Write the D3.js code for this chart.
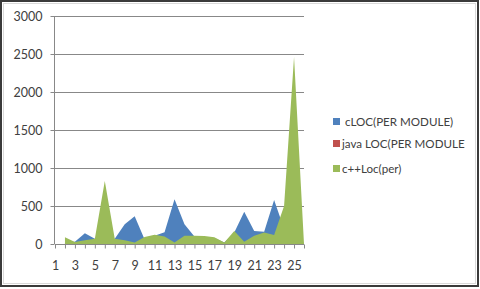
<!DOCTYPE html>
<html>
<head>
<meta charset="utf-8">
<script src="https://cdn.jsdelivr.net/npm/d3@7"></script>
<style>
  body { margin: 0; background: #fff; }
  text { font-family: Lato, "Open Sans", sans-serif; fill: #404040; }
</style>
</head>
<body>
<div id="chart"></div>
<script>
// categories 1..26, category 1 empty
var categories = d3.range(1, 27);
var cLOC = [null, 20, 30, 140, 70, 60, 70, 260, 365, 60, 110, 155, 590, 260, 100, 90, 80, 20, 150, 425, 170, 160, 580, 200, 300, 0];
var javaLOC = [null, 0, 0, 0, 0, 0, 0, 0, 0, 0, 0, 0, 0, 0, 0, 0, 0, 0, 0, 0, 0, 0, 0, 0, 0, 0];
var cppLOC = [null, 90, 25, 50, 70, 830, 70, 50, 20, 92, 123, 100, 20, 110, 110, 105, 90, 20, 170, 30, 110, 150, 120, 500, 2460, 0];
var yTicks = [0, 500, 1000, 1500, 2000, 2500, 3000];

var series = [
    { name: "cLOC(PER MODULE)", values: cLOC, color: "#4f81bd" },
    { name: "java LOC(PER MODULE", values: javaLOC, color: "#c0504d" },
    { name: "c++Loc(per)", values: cppLOC, color: "#9bbb59" }
];

var width = 480, height = 289;
var plot = { left: 55, right: 304, top: 16, bottom: 244 };

var svg = d3.select("#chart")
    .append("svg")
    .attr("width", width)
    .attr("height", height);

// frame
svg.append("rect")
    .attr("x", 1).attr("y", 1)
    .attr("width", width - 3).attr("height", height - 4)
    .attr("fill", "#fff")
    .attr("stroke", "#3a3a3a")
    .attr("stroke-width", 2);
svg.append("rect")
    .attr("x", 3.5).attr("y", 3.5)
    .attr("width", width - 8).attr("height", height - 9)
    .attr("fill", "none")
    .attr("stroke", "#d9d9d9")
    .attr("stroke-width", 1);

var x = d3.scalePoint()
    .domain(categories)
    .range([plot.left, plot.right]);
var y = d3.scaleLinear()
    .domain([0, 3000])
    .range([plot.bottom, plot.top]);

// gridlines
svg.append("g")
    .selectAll("line")
    .data(yTicks.slice(1))
    .join("line")
    .attr("x1", plot.left).attr("x2", plot.right)
    .attr("y1", function (d) { return Math.round(y(d)) + 0.5; })
    .attr("y2", function (d) { return Math.round(y(d)) + 0.5; })
    .attr("stroke", "#888")
    .attr("stroke-width", 1);

// areas
var area = d3.area()
    .defined(function (d) { return d != null; })
    .x(function (d, i) { return x(categories[i]); })
    .y0(y(0))
    .y1(function (d) { return y(d); });

svg.append("g")
    .selectAll("path")
    .data(series)
    .join("path")
    .attr("d", function (s) { return area(s.values); })
    .attr("fill", function (s) { return s.color; });

// y axis
var yAxis = svg.append("g")
    .attr("transform", "translate(" + (plot.left - 0.5) + ",0)")
    .call(d3.axisLeft(y).tickValues(yTicks).tickFormat(d3.format("d")).tickSize(4).tickPadding(8));
yAxis.select(".domain").attr("stroke", "#888").attr("d", "M0," + plot.bottom + "V" + plot.top);
yAxis.selectAll(".tick line").attr("stroke", "#888");
yAxis.selectAll("text").style("font-size", "12.5px").attr("fill", "#404040");

// x axis
var xAxis = svg.append("g")
    .attr("transform", "translate(0," + (plot.bottom + 0.5) + ")")
    .call(d3.axisBottom(x).tickSize(4).tickPadding(13)
        .tickFormat(function (d) { return d % 2 === 1 ? d : ""; }));
xAxis.select(".domain").attr("stroke", "#888").attr("d", "M" + plot.left + ",0H" + plot.right);
xAxis.selectAll(".tick line").attr("stroke", "#888");
xAxis.selectAll("text").style("font-size", "12.5px").attr("fill", "#404040");

// legend
var legend = svg.append("g")
    .selectAll("g")
    .data(series)
    .join("g")
    .attr("transform", function (d, i) { return "translate(333," + [122, 144, 169][i] + ")"; });
legend.append("rect")
    .attr("x", 0).attr("y", -4)
    .attr("width", 7).attr("height", 7)
    .attr("fill", function (d) { return d.color; });
legend.append("text")
    .attr("x", function (d, i) { return i === 0 ? 12 : 9; })
    .attr("dy", "0.35em")
    .style("font-size", "11.6px")
    .text(function (d) { return d.name; });
</script>
</body>
</html>
